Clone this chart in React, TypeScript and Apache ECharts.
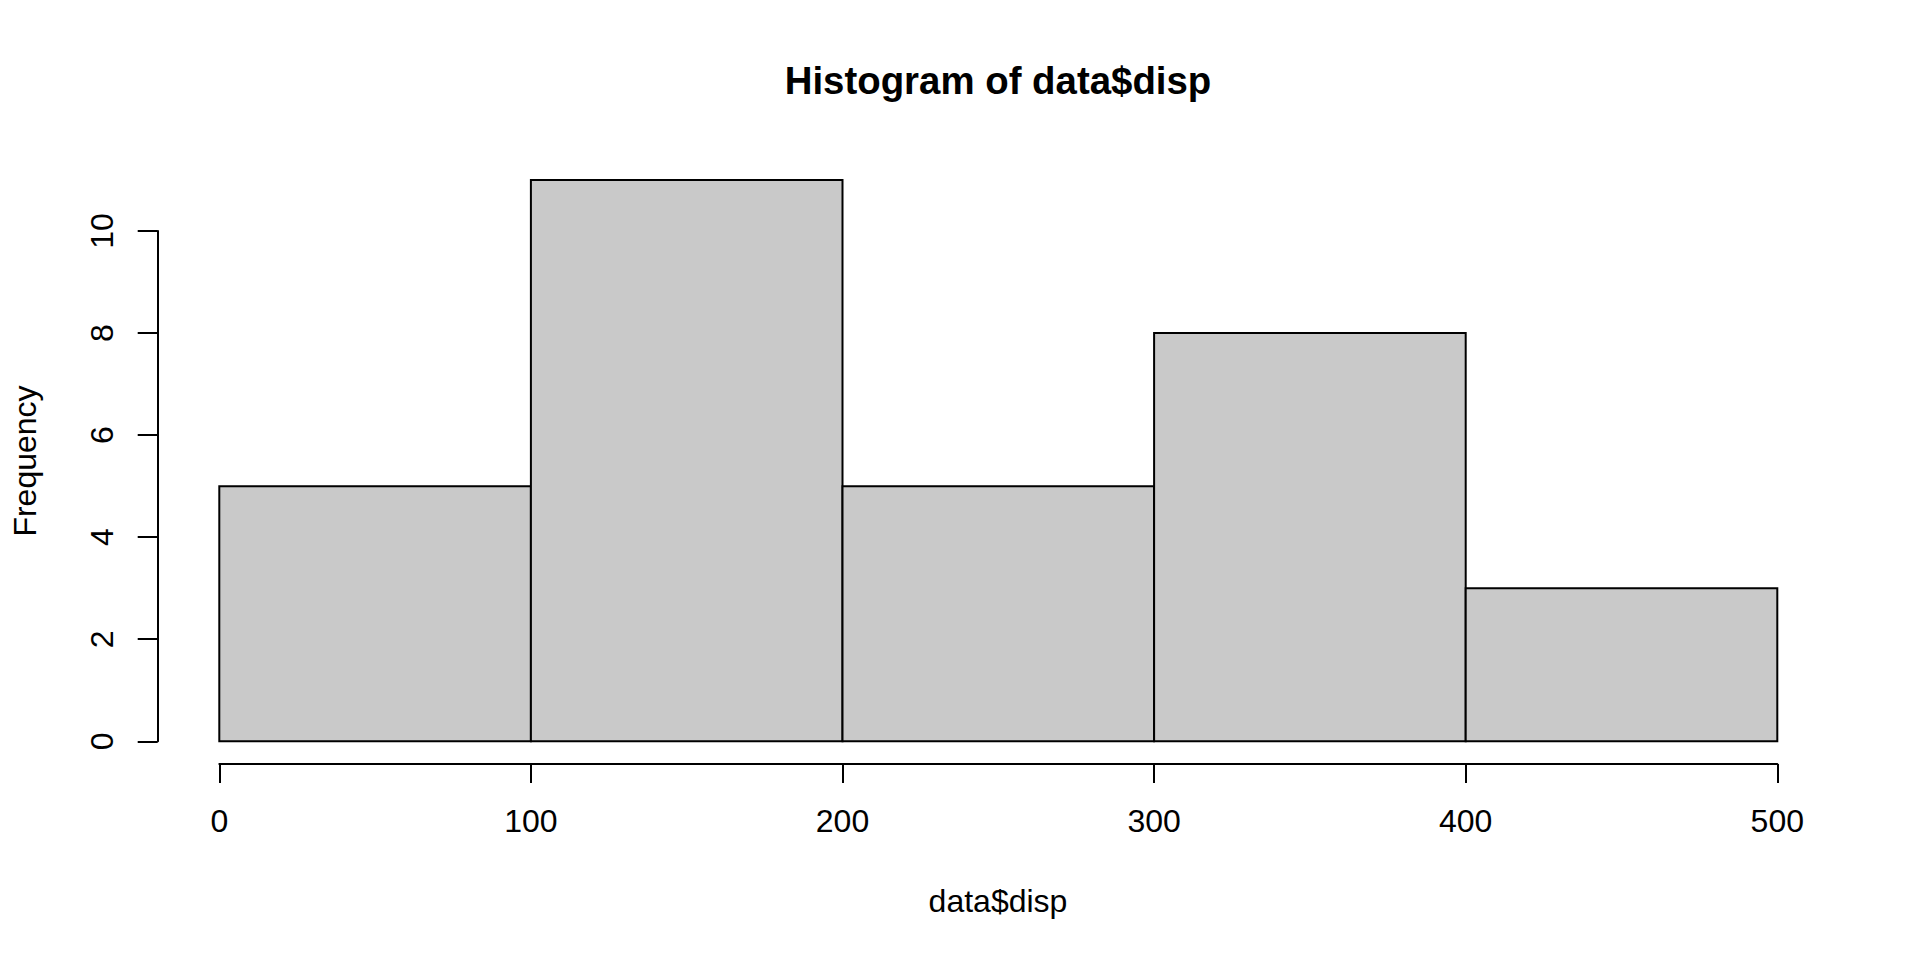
import React, { useEffect, useRef } from "react";
import * as echarts from "echarts";

const binStarts = [0, 100, 200, 300, 400];
const binEnds = [100, 200, 300, 400, 500];
const frequencies = [5, 11, 5, 8, 3];
const chartTitle = "Histogram of data$disp";
const xTitle = "data$disp";
const yTitle = "Frequency";

const FONT = "'Liberation Sans', Arial, Helvetica, sans-serif";

export default function App() {
  const ref = useRef<HTMLDivElement>(null);
  useEffect(() => {
    if (!ref.current) return;
    const chart = echarts.init(ref.current, undefined, { renderer: "svg" });
    const data = binStarts.map((s, i) => [s, binEnds[i], frequencies[i]]);
    const lineStyle = { color: "#000", width: 2 };
    chart.setOption({
      animation: false,
      backgroundColor: "#fff",
      grid: [
        { left: 219.3, right: 142.7, top: 180, bottom: 218.7 },
        { left: 157.7, width: 1, top: 231, bottom: 218.7 },
      ],
      xAxis: [
        {
          gridIndex: 0,
          type: "value",
          min: 0,
          max: 500,
          interval: 100,
          offset: 22.7,
          splitLine: { show: false },
          axisLine: { show: true, onZero: false, lineStyle },
          axisTick: { show: true, inside: false, length: 19, lineStyle },
          axisLabel: { color: "#000", fontSize: 32, fontFamily: FONT, margin: 41 },
        },
        { gridIndex: 1, type: "value", show: false, min: 0, max: 1 },
      ],
      yAxis: [
        { gridIndex: 0, type: "value", show: false, min: 0, max: 11 },
        {
          gridIndex: 1,
          type: "value",
          min: 0,
          max: 10,
          interval: 2,
          splitLine: { show: false },
          axisLine: { show: true, onZero: false, lineStyle },
          axisTick: { show: true, inside: false, length: 20, lineStyle },
          axisLabel: { color: "#000", fontSize: 32, fontFamily: FONT, margin: 40, rotate: 90 },
        },
      ],
      graphic: [
        {
          type: "text",
          x: 998,
          y: 80,
          style: { text: chartTitle, fontSize: 38.4, fontWeight: "bold", fontFamily: FONT, fill: "#000", align: "center", verticalAlign: "middle" },
        },
        {
          type: "text",
          x: 998,
          y: 901,
          style: { text: xTitle, fontSize: 32, fontFamily: FONT, fill: "#000", align: "center", verticalAlign: "middle" },
        },
        {
          type: "text",
          x: 25,
          y: 461,
          rotation: Math.PI / 2,
          style: { text: yTitle, fontSize: 32, fontFamily: FONT, fill: "#000", align: "center", verticalAlign: "middle" },
        },
      ],
      series: [
        {
          type: "custom",
          xAxisIndex: 0,
          yAxisIndex: 0,
          data,
          encode: { x: [0, 1], y: 2 },
          renderItem: (params: any, api: any) => {
            const p0 = api.coord([api.value(0), api.value(2)]);
            const p1 = api.coord([api.value(1), 0]);
            return {
              type: "rect",
              shape: { x: p0[0], y: p0[1], width: p1[0] - p0[0], height: p1[1] - p0[1] },
              style: { fill: "#C9C9C9", stroke: "#000", lineWidth: 2 },
            };
          },
        },
      ],
    });
    return () => chart.dispose();
  }, []);
  return <div ref={ref} style={{ position: "fixed", left: 0, top: 0, width: 1920, height: 960 }} />;
}
